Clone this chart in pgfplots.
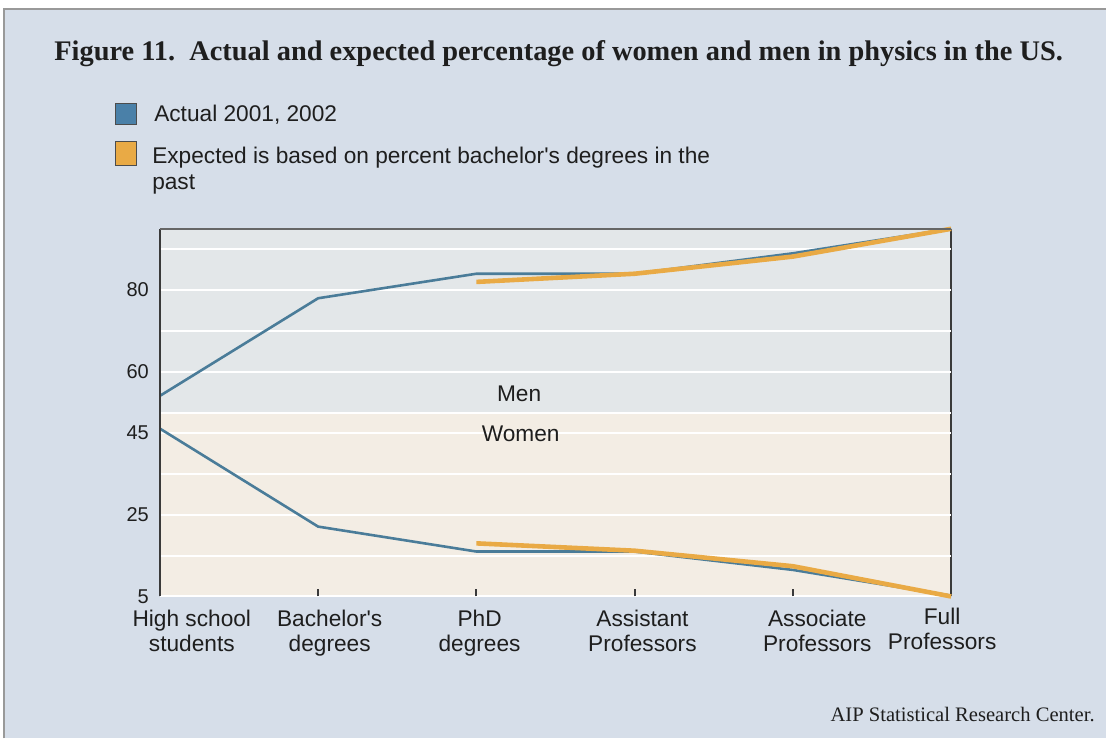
\documentclass[border=0pt]{standalone}
\usepackage{fontspec}
\setmainfont{Liberation Sans}
\newfontfamily\seriffont{Liberation Serif}
\usepackage{pgfplots}
\pgfplotsset{compat=1.18}
\definecolor{outerbg}{HTML}{D6DEE9}
\definecolor{upperbg}{HTML}{E3E7E9}
\definecolor{lowerbg}{HTML}{F3EDE4}
\definecolor{actualc}{HTML}{4A7C99}
\definecolor{expectc}{HTML}{E9AA45}
\definecolor{legblue}{HTML}{4A80A8}
\definecolor{textc}{HTML}{1E1E1E}
\definecolor{axisdark}{HTML}{3A3A3A}
\begin{document}
\begin{tikzpicture}[x=1pt,y=1pt]
\fill[white] (0,0) rectangle (553.5,369.5);
\fill[outerbg] (2,0) rectangle (553.5,365);
\draw[black!40, line width=1pt] (2,0) -- (2,365) -- (553.5,365);
\node[anchor=base west, inner sep=0, text=textc, font=\seriffont\bfseries\fontsize{14.2}{16}\selectfont] at (27,339) {Figure 11.\ \ Actual and expected percentage of women and men in physics in the US.};
% legend
\filldraw[fill=legblue, draw=black!70, line width=0.4pt] (58,307) rectangle (68.5,318);
\filldraw[fill=expectc, draw=black!70, line width=0.4pt] (58,286.5) rectangle (68.5,298.5);
\begin{scope}[every node/.style={anchor=base west, inner sep=0, text=textc, font=\fontsize{11.35}{13}\selectfont}]
\node at (77,308.5) {Actual 2001, 2002};
\node at (76,287.5) {Expected is based on percent bachelor\textquotesingle s degrees in the};
\node at (76,274.5) {past};
\end{scope}
% footer
\node[anchor=base east, inner sep=0, text=textc, font=\seriffont\fontsize{10.3}{12}\selectfont] at (548,8.5) {AIP Statistical Research Center.};
% category labels
\begin{scope}[every node/.style={anchor=base, inner sep=0, text=textc, font=\fontsize{11.35}{13}\selectfont}]
\node at (96,56) {High school};   \node at (96,43.5) {students};
\node at (165,56) {Bachelor\textquotesingle s};   \node at (165,43.5) {degrees};
\node at (240,56) {PhD};          \node at (240,43.5) {degrees};
\node at (321.5,56) {Assistant};  \node at (321.5,43.5) {Professors};
\node at (409,56) {Associate};    \node at (409,43.5) {Professors};
\node at (471.5,57) {Full};       \node at (471.5,44.5) {Professors};
\end{scope}
% panel backgrounds (Men above, Women below)
\fill[upperbg] (80,163) rectangle (476,255);
\fill[lowerbg] (80,71) rectangle (476,163);
\draw[axisdark, line width=1pt] (476,72) -- (476,255);
\begin{axis}[
  at={(80pt,71pt)}, anchor=south west,
  scale only axis, width=396pt, height=184pt,
  xmin=0, xmax=5, ymin=5, ymax=95,
  clip=false,
  axis line style={draw=none},
  xtick={0,1,2,3,4,5}, xticklabels={}, xtick pos=bottom, xtick align=inside,
  major tick length=3.5pt,
  x tick style={color=axisdark, line width=1pt},
  ytick={5,25,45,60,80},
  y tick style={draw=none},
  ymajorgrids,
  extra y ticks={15,35,50,70,90}, extra y tick labels={},
  extra y tick style={grid=major, major tick length=0pt},
  grid style={white, line width=1pt},
  yticklabel style={font=\fontsize{10}{11}\selectfont, text=textc, xshift=-2pt},
  /pgf/number format/assume math mode=true,
]
% Actual 2001, 2002 -- men (upper half)
\addplot[actualc, line width=1.3pt] coordinates {(0,54.1) (1,78) (2,84) (3,84) (4,89) (5,95)};
% Actual -- women (lower half)
\addplot[actualc, line width=1.3pt] coordinates {(0,46.1) (1,22.1) (2,16) (3,16) (4,11.5) (5,5.2)};
% Expected -- men
\addplot[expectc, line width=2.3pt] coordinates {(2,82) (3,84) (4,88.2) (5,95)};
% Expected -- women
\addplot[expectc, line width=2.3pt] coordinates {(2,18) (3,16.2) (4,12.4) (5,5)};
\draw[axisdark, line width=1.2pt] (axis cs:0,5) -- (axis cs:0,95);
\draw[black!60, line width=1pt] (axis cs:0,95) -- (axis cs:5,95);
\node[text=textc, font=\fontsize{11.35}{13}\selectfont] at (axis cs:2.27,54.5) {Men};
\node[text=textc, font=\fontsize{11.35}{13}\selectfont] at (axis cs:2.28,44.7) {Women};
\end{axis}
\end{tikzpicture}
\end{document}
